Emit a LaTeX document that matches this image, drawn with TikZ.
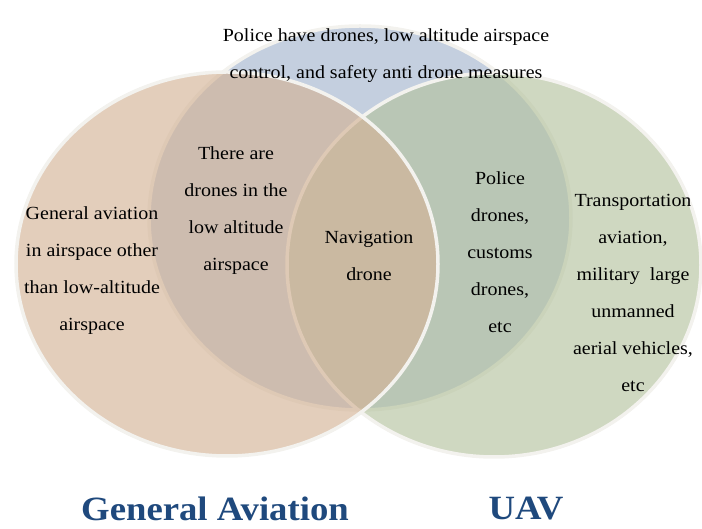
\documentclass[tikz,border=0pt]{standalone}
\usepackage{fontspec}
\setmainfont{Liberation Serif}[FakeStretch=1.08]
\usepackage{tikz}

\definecolor{ringwhite}{RGB}{243,242,238}
\definecolor{policefill}{RGB}{137,159,191}
\definecolor{gafill}{RGB}{211,178,149}
\definecolor{uavfill}{RGB}{180,194,158}
\definecolor{titleblue}{RGB}{31,73,125}

\begin{document}
\begin{tikzpicture}[x=1pt,y=1pt,
    zone/.style={line width=3.5pt,draw=ringwhite,fill opacity=0.64},
    shade/.style={line width=2pt,draw=black!13,yshift=-2pt},
    note/.style={align=center,font=\fontsize{18.5}{37}\selectfont},
    title/.style={font=\fontsize{34}{40}\selectfont\bfseries,text=titleblue}]
    \useasboundingbox (0,0) rectangle (702,529);

    \coordinate (P) at (360,311);
    \coordinate (G) at (227,265);
    \coordinate (U) at (494,264);

    \draw[shade] (P) ellipse [x radius=211pt,y radius=192pt];
    \draw[zone,fill=policefill,fill opacity=0.5] (P) ellipse [x radius=211pt,y radius=192pt];
    \draw[shade] (U) ellipse [x radius=207pt,y radius=192pt];
    \draw[zone,fill=uavfill] (U) ellipse [x radius=207pt,y radius=192pt];
    \draw[shade] (G) ellipse [x radius=211pt,y radius=192pt];
    \draw[zone,fill=gafill] (G) ellipse [x radius=211pt,y radius=192pt];

    \node[note] (police) at (386,473) {Police have drones, low altitude airspace\\control, and safety anti drone measures};
    \node[note] (gaonly) at (92,258) {General aviation\\in airspace other\\than low-altitude\\airspace};
    \node[note] (lowalt) at (236,318) {There are\\drones in the\\low altitude\\airspace};
    \node[note] (nav) at (369,273) {Navigation\\drone};
    \node[note] (policeuav) at (500,277) {Police\\drones,\\customs\\drones,\\etc};
    \node[note] (transport) at (633,236) {Transportation\\aviation,\\military\ \ large\\unmanned\\aerial vehicles,\\etc};

    \node[title] (ga) at (215,20) {General Aviation};
    \node[title] (uav) at (526,20) {UAV};
\end{tikzpicture}
\end{document}
